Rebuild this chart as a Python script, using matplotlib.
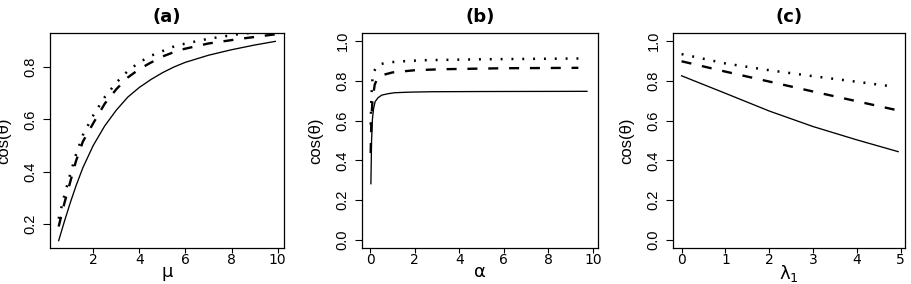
import numpy as np
import matplotlib
matplotlib.use("Agg")
import matplotlib.pyplot as plt

# panel (a): cos(theta) vs mu
mu_solid = [0.5, 0.75, 1.0, 1.25, 1.55, 2.0, 2.5, 3.0, 3.5, 4.0, 4.5, 5.0, 5.5, 6.0, 7.0, 8.0, 9.0, 9.9]
cos_a_solid = [0.136, 0.21, 0.28, 0.345, 0.415, 0.5, 0.575, 0.635, 0.685, 0.722, 0.752, 0.778, 0.8,
               0.818, 0.845, 0.866, 0.884, 0.898]
mu_dash = [0.5, 0.75, 1.0, 1.25, 1.55, 2.0, 2.5, 3.0, 3.5, 4.0, 4.44, 5.0, 5.74, 7.0, 8.48, 9.9]
cos_a_dash = [0.19, 0.28, 0.36, 0.44, 0.515, 0.585, 0.66, 0.715, 0.76, 0.792, 0.814, 0.84, 0.865,
              0.89, 0.909, 0.925]
mu_dot = [0.5, 0.75, 1.0, 1.25, 1.55, 2.0, 2.5, 3.0, 3.5, 4.0, 4.5, 5.6, 7.0, 8.33, 9.9]
cos_a_dot = [0.22, 0.31, 0.39, 0.465, 0.54, 0.615, 0.685, 0.74, 0.785, 0.818, 0.843, 0.882, 0.908,
             0.926, 0.94]

# panel (b): cos(theta) vs alpha
alpha_solid = [0.03, 0.06, 0.1, 0.15, 0.22, 0.35, 0.52, 0.8, 1.1, 1.8, 2.8, 5.0, 9.74]
cos_b_solid = [0.283, 0.5, 0.61, 0.66, 0.695, 0.715, 0.728, 0.735, 0.74, 0.743, 0.745, 0.746, 0.747]
alpha_dash = [0.02, 0.05, 0.1, 0.2, 0.3, 0.6, 1.0, 2.0, 3.2, 6.0, 9.35]
cos_b_dash = [0.437, 0.6, 0.7, 0.78, 0.807, 0.83, 0.842, 0.853, 0.858, 0.863, 0.865]
alpha_dot = [0.02, 0.05, 0.1, 0.15, 0.37, 0.82, 1.3, 2.3, 5.0, 9.4]
cos_b_dot = [0.58, 0.72, 0.81, 0.845, 0.882, 0.892, 0.897, 0.903, 0.908, 0.912]

# panel (c): cos(theta) vs lambda_1
lam_solid = [0, 1, 2, 3, 4, 4.94]
cos_c_solid = [0.825, 0.737, 0.648, 0.57, 0.503, 0.444]
lam_dash = [0, 1, 2, 3, 4, 4.96]
cos_c_dash = [0.898, 0.846, 0.796, 0.746, 0.697, 0.65]
lam_dot = [0, 1, 2, 3, 4, 4.69]
cos_c_dot = [0.934, 0.887, 0.853, 0.823, 0.795, 0.775]

plt.rcParams['font.family'] = ['DejaVu Sans']
plt.rcParams['mathtext.fontset'] = 'custom'
plt.rcParams['mathtext.rm'] = 'DejaVu Sans'
plt.rcParams['mathtext.it'] = 'DejaVu Sans'
plt.rcParams['lines.scale_dashes'] = False

W, H = 912, 284
fig = plt.figure(figsize=(W / 100, H / 100), dpi=100)


def make_axes(left, right, top, bottom):
    return fig.add_axes([left / W, 1 - bottom / H, (right - left) / W, (bottom - top) / H])


def style(ax, title, xlabel, xticks, yticks, xlim, ylim):
    ax.set_xlim(*xlim)
    ax.set_ylim(*ylim)
    ax.set_xticks(xticks)
    ax.set_yticks(yticks)
    ax.set_xticklabels([f"{t:g}" for t in xticks], fontsize=10)
    ax.set_yticklabels([f"{t:.1f}" for t in yticks], rotation=90, va='center',
                       family='Liberation Sans', fontsize=10.5)
    ax.tick_params(axis='x', direction='out', length=3.6, width=0.8, pad=0)
    ax.tick_params(axis='y', direction='out', length=5, width=0.8, pad=4)
    for s in ax.spines.values():
        s.set_linewidth(0.9)
    ax.set_title(title, fontsize=13, fontweight='bold', pad=8)
    ax.set_xlabel(xlabel, fontsize=13, labelpad=-3)
    ax.set_ylabel("cos(θ)", fontsize=12, family='Liberation Sans')
    width_px = ax.get_position().width * W
    ax.yaxis.set_label_coords(-39 / width_px, 0.5)


def draw(ax, xs, ys):
    ax.plot(xs[0], ys[0], color='black', lw=0.95)
    ax.plot(xs[1], ys[1], color='black', lw=1.7, linestyle=(0, (7.2, 7.8)))
    ax.plot(xs[2], ys[2], color='black', lw=1.8, linestyle=(0, (1.4, 6.4)))


ax_a = make_axes(50, 284, 33, 248)
draw(ax_a, [mu_solid, mu_dash, mu_dot], [cos_a_solid, cos_a_dash, cos_a_dot])
style(ax_a, "(a)", "μ", [2, 4, 6, 8, 10], [0.2, 0.4, 0.6, 0.8], (0.124, 10.276), (0.108, 0.93))

ax_b = make_axes(362, 597.7, 33, 248)
draw(ax_b, [alpha_solid, alpha_dash, alpha_dot], [cos_b_solid, cos_b_dash, cos_b_dot])
style(ax_b, "(b)", "α", [0, 2, 4, 6, 8, 10], [0.0, 0.2, 0.4, 0.6, 0.8, 1.0], (-0.37, 10.22), (-0.04, 1.04))

ax_c = make_axes(673, 905, 33, 248)
draw(ax_c, [lam_solid, lam_dash, lam_dot], [cos_c_solid, cos_c_dash, cos_c_dot])
style(ax_c, "(c)", r"$\lambda_1$", [0, 1, 2, 3, 4, 5], [0.0, 0.2, 0.4, 0.6, 0.8, 1.0], (-0.196, 5.096), (-0.04, 1.04))

fig.savefig("out.png", dpi=100)
